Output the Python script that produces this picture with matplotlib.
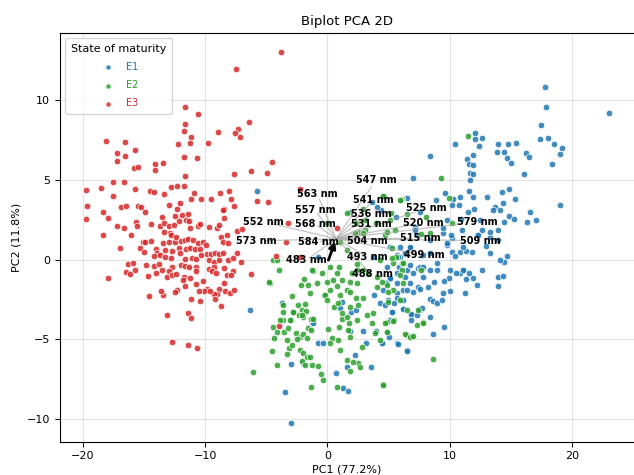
import matplotlib
matplotlib.use("Agg")
import matplotlib.pyplot as plt
import numpy as np

# E3 scores (red cluster)
e3_x = [-7.46, -11.63, -10.56, -6.39, -11.63, -11.71, -8.95, -7.32, -7.59, -7.13, -11.16, -18.11,
        -16.56, -12.2, -11.22, -9.8, -15.77, -17.24, -16.56, -11.71, -10.7, -17.24, -14.1, -13.45,
        -15.85, -15.5, -14.1, -11.63, -7.67, -6.25, -4.95, -17.51, -16.64, -19.75, -18.55, -17.57,
        -15.77, -14.51, -14.16, -13.37, -12.8, -12.33, -11.76, -10.94, -11.14, -10.34, -9.55, -8.77,
        -8.05, -7.87, -7.65, -8.44, -19.64, -16.88, -16.5, -15.47, -15.25, -12.99, -12.06, -5.79,
        -4.84, -2.25, -3.8, -3.2, -4.56, 0.8, -4.2, -2.25, -3.94, -3.4,
        -19.75, -18.38, -17.92, -14.9, -12.28, -13.56, -12.5, -11.87, -11.38, -11.6, -11.35, -12.12,
        -17.24, -16.61, -18.38, -16.04, -15.66, -15.55, -14.41, -13.7, -13.34, -12.96, -13.34, -12.88,
        -12.55, -10.59, -10.43, -11.24, -9.71, -9.06, -8.87, -8.44, -8.52, -7.4, -7.02, -8.73,
        -8.19, -8.57, -8.11, -7.43, -7.1, -6.26, -16.97,
        -15.11, -14.9, -14.46, -15.3, -15.0, -14.02, -13.91, -14.19, -13.7, -13.29, -13.42, -12.93,
        -12.44, -12.82, -12.36, -11.98, -11.68, -11.38, -10.97, -10.59, -10.21, -9.96, -12.14, -11.57,
        -11.22, -10.83, -10.43, -9.88, -9.5, -9.17, -8.87, -8.57, -12.71, -13.26, -12.82, -12.06,
        -11.68, -11.11, -10.78, -10.37, -9.69, -9.28, -8.87, -8.16, -7.7, -16.31, -15.93, -16.48,
        -16.15, -15.74, -14.81, -14.19, -13.75, -13.56, -14.02, -14.7, -12.74, -12.99, -13.1, -12.74,
        -12.39, -12.01, -11.65, -11.32, -10.75, -10.72, -11.73, -11.84, -11.24, -10.75, -10.15, -9.72,
        -9.25, -9.47, -9.14, -8.44, -7.73, -8.22, -7.92, -8.44, -8.38, -7.97, -7.62, -8.87,
        -9.06, -9.31, -9.88, -10.1, -10.51, -9.61, -9.17, -8.71, -11.62, -12.31, -12.47, -13.48,
        -13.64, -14.57, -11.16, -10.45, -11.38, -11.13, -13.15, -17.98, -12.69, -11.43, -10.7]
e3_y = [11.93, 9.55, 9.11, 8.59, 8.45, 8.03, 7.99, 8.18, 7.93, 7.68, 7.68, 7.43,
        7.36, 7.22, 7.26, 7.26, 6.82, 6.68, 6.49, 6.41, 6.32, 6.18, 5.95, 6.01,
        5.74, 5.8, 5.59, 5.2, 5.34, 5.55, 5.41, 4.82, 4.82, 4.32, 4.45, 3.97,
        4.39, 4.3, 4.2, 4.11, 4.51, 4.61, 4.61, 4.18, 3.76, 3.8, 3.76, 4.18,
        4.28, 3.8, 3.36, 3.16, 3.34, 3.26, 3.32, 3.36, 3.3, 3.39, 3.51, 3.68,
        3.61, 4.41, 13.0, 2.3, 6.07, 2.0, 0.24, 0.14, -4.14, 1.11,
        2.51, 2.95, 2.61, 2.99, 3.16, 2.64, 2.72, 2.78, 2.86, 2.47, 2.43, 2.43,
        2.11, 1.97, 1.51, 1.51, 2.32, 2.11, 2.2, 2.11, 2.28, 2.11, 1.72, 1.64,
        2.14, 2.11, 2.2, 1.95, 2.01, 1.97, 2.16, 2.57, 3.09, 1.78, 1.89, 1.39,
        1.51, 1.09, 1.03, 0.43, -0.18, -0.89, 0.74,
        1.07, 1.11, 1.14, 0.74, 0.47, 0.68, 0.39, 0.22, 0.3, 0.59, 1.01, 1.11,
        1.07, 1.55, 1.39, 1.16, 1.22, 1.28, 1.2, 1.01, 1.11, 0.89, 0.74, 0.68,
        0.74, 0.64, 0.66, 0.34, 0.32, 0.43, 0.32, 0.39, 0.53, 0.18, 0.09, 0.39,
        0.03, 0.07, 0.03, 0.26, -0.03, -0.18, -0.03, -0.03, 0.07, -0.3, -0.24, -0.78,
        -0.89, -0.66, -0.34, -0.39, -0.26, -0.66, -0.82, -1.01, -0.49, -0.72, -1.11, -0.97,
        -0.91, -0.32, -0.41, -0.45, -0.47, -0.74, -1.07, -1.28, -1.18, -1.51, -1.34, -0.57,
        -0.45, -0.74, -0.82, -0.55, -0.7, -0.99, -0.99, -1.49, -1.97, -2.11, -1.91, -1.84,
        -2.18, -2.14, -1.86, -1.95, -1.99, -1.99, -2.47, -2.91, -1.64, -1.91, -2.05, -2.22,
        -1.97, -2.26, -2.47, -2.59, -3.32, -3.68, -3.47, -1.14, -5.16, -5.34, -5.53]

# E1 scores (blue cluster)
e1_x = [-5.79, -6.3, -3.69, -1.29, -0.75, -0.4, -3.01, -2.03, -3.47, -3.01, 0.7, 1.29,
        1.7, 1.57, 2.25, 3.53, 1.84, 2.93, 1.93, 2.33, 1.16, 1.02, 3.15, 4.43,
        5.66, 6.53, 3.96, 4.89, 5.11, 3.8, 4.29, 5.25, 6.26, 6.81, 7.56, 6.06,
        5.66, 6.2, 6.75, 7.43, 7.84, 5.66, 5.11, 4.57, 6.47, 7.43, 5.84, 5.66,
        6.34, 5.11, 5.93, 6.75, -1.21, -0.75,
        14.65, 14.43, 13.97, 14.38, 13.97, 12.61, 12.2, 11.92, 11.6, 11.32, 11.05, 10.84,
        10.51, 9.96, 9.52, 10.02, 9.47, 11.24, 8.71, 8.25, 7.56, 7.02, 6.47, 8.38,
        8.65, 8.98, 9.39, 7.51, 7.7, 6.79, 7.29, 8.38, 9.55, 8.65, 6.53, 5.79,
        5.03, 4.43, 6.83, 6.2, 5.25, 5.44, 4.7, 6.2, 5.72, 4.97, 7.29, 10.15,
        9.74, 10.15, 10.84, 11.32, 11.79, 10.42, 8.38, 7.83, 5.92, 6.75, 7.56, 8.38,
        8.92, 7.02, 6.34, 5.65, 5.11, 4.78, 12.96, 13.29, 13.97, 12.2,
        17.81, 17.87, 23.04, 17.43, 17.37, 18.03, 18.55, 19.15, 19.01, 18.36, 16.23, 16.45,
        16.07, 15.44, 14.76, 13.97, 13.86, 14.43, 14.65, 14.98, 12.09, 12.61, 12.09, 12.39,
        10.43, 11.87, 11.41, 11.54, 11.93, 11.65, 11.93, 11.65, 11.6, 8.41, 7.0, 6.52,
        8.89, 9.61, 10.29, 10.15, 10.78, 10.83, 11.98, 14.24, 14.84, 15.3, 14.32, 13.72,
        14.1, 16.56, 19.01, 17.05, 16.34, 14.84, 15.27, 14.43, 12.47, 10.94, 9.74, 12.63,
        13.29, 13.97, 9.42, 10.07, 10.97, 7.15,
        4.37, 3.61, 1.84, 5.6, 7.15, 4.02, 7.56, 11.52, 11.92, 13.01, 13.56, 12.33,
        9.47, 8.38, 9.74, 11.1, 13.29, 14.1, 6.75, 5.79, 4.84, 3.75, 7.84, 8.92,
        10.02, 11.1]
e1_y = [4.26, -3.13, -2.74, -3.89, -5.24, -5.2, -6.53, -6.45, -8.3, -10.24, -7.11, -8.05,
        -8.22, -6.7, -5.97, -6.7, -4.45, -4.45, -3.26, -3.16, -2.64, -3.05, -5.24, -5.24,
        -5.24, -5.66, -4.45, -4.51, -3.78, -2.22, -2.74, -3.26, -3.12, -3.47, -3.16, -2.53,
        -2.12, -1.91, -1.49, -1.7, -1.07, -1.49, -1.24, -1.91, -0.66, -0.55, -0.45, 0.28,
        0.39, 0.8, 0.8, 0.7, -3.99, 0.14,
        0.22, -0.14, -1.07, -1.03, -1.64, -0.66, -1.59, -1.18, -0.86, -1.24, -0.66, -0.86,
        -0.86, -1.18, -1.32, -1.95, -2.07, -2.07, -1.39, -1.7, -1.86, -2.01, -1.91, -2.49,
        -2.57, -2.7, -2.53, -3.11, -3.05, -3.41, -3.47, -3.62, -4.24, -4.66, -5.7, -5.28,
        -4.86, -5.24, -3.78, -3.12, -3.26, -2.7, -2.84, -2.53, -2.43, -2.53, 1.53, 1.32,
        0.91, 0.49, 0.49, 0.55, 0.45, 0.22, 0.38, 0.28, 0.18, -0.34, -0.45, -0.66,
        -0.66, -0.86, -1.07, -0.86, -1.18, -1.49, 0.84, 1.43, 1.22, 1.53,
        10.8, 9.55, 9.14, 8.39, 7.51, 7.61, 7.22, 6.95, 6.59, 5.95, 6.68, 6.43,
        5.32, 7.26, 7.22, 7.22, 6.72, 6.72, 6.34, 6.05, 7.89, 7.57, 7.51, 7.11,
        7.22, 6.51, 6.3, 5.95, 5.93, 5.38, 5.32, 4.95, 4.28, 6.45, 5.07, 3.82,
        3.72, 4.14, 3.78, 3.41, 3.41, 3.93, 3.13, 4.22, 4.39, 3.76, 3.51, 3.3,
        3.09, 2.97, 3.41, 2.47, 2.34, 2.72, 2.55, 2.36, 2.47, 2.51, 2.47, 1.84,
        1.74, 1.84, 1.64, 1.51, 1.84, 2.05,
        3.09, 3.59, 2.95, 2.68, 1.84, 3.3, 2.99, 2.99, 3.93, 3.93, 3.09, 1.53,
        1.95, 1.22, 1.01, 0.8, 0.38, -0.03, 0.8, 0.18, -0.45, 0.18, -0.45, -0.24,
        -0.66, -0.66]

# E2 scores (green cluster)
e2_x = [-4.43, -3.94, -4.7, -1.16, -0.48, -1.89, -2.17, -1.57, -0.89, -1.43, -0.07, 0.2,
        -0.29, -2.88, -3.61, -3.67, -2.38, -1.84, -2.79, -2.11, -1.76, -1.35, -1.16, -1.98,
        -2.3, -2.98, -3.61, -4.48, -4.16, -3.53, -3.2, -2.58, -2.25, -1.98, -1.57, -1.35,
        -1.7, -2.52, -3.34, -3.15, -2.88, -2.25, -1.98, -1.7, -1.43, -2.11, -1.84, -1.29,
        -4.51, -6.12, -0.75, -0.56, -0.4, -1.38, 0.8, 1.84, 2.52, 2.66, 0.07, 0.34,
        0.2, 0.89, 0.97, 1.16, 1.76, 1.57, 1.7, 1.84, 1.57, 2.11, 1.02, 1.16,
        1.84, 0.53, 0.89, 1.02, 0.8, 1.16, 1.57, 1.84, 2.33, 2.93, 2.52, 3.2,
        3.69, 3.61, 2.38, 2.79, 3.88, 4.29, 4.57, 0.75, 0.97, -0.2, -0.01, 2.38,
        2.93, 3.34, 5.38, 4.84, 5.38, 4.97, 5.44, 4.84, 6.47, 6.88, 7.29, 7.84,
        6.47, 4.02, 4.43, 2.38, 1.84, 1.98, 4.02,
        7.83, 7.43, 8.6, 4.51, 4.7, 4.84, 5.38, 6.34, 6.74, 6.96, 5.25, 5.6,
        6.06, 6.06, 5.92, 7.62, 6.15, 4.97, 5.92, 8.38,
        11.52, 9.25, 9.91, 8.05, 6.53, 10.15, 7.62, 6.07,
        5.98, 4.62, 2.88, 5.16, 3.97, -0.07, 2.52, 3.07, 4.7, 4.56, 5.93, 1.57,
        2.33, 3.07, 5.11, 4.84, 5.52, 2.93, 2.25, 1.02, 1.57, 0.2, -1.29, -4.16,
        -4.75, 0.48, 2.38, 4.29, 5.25, 6.2,
        -4.35, -4.1, -3.29, -3.88, -3.07, -2.85, -2.11]
e2_y = [-0.03, -0.66, -1.45, -0.7, -0.86, -1.24, -1.59, -1.59, -1.49, -2.07, -1.39, -1.91,
        -2.22, -2.28, -2.84, -3.26, -2.84, -2.78, -3.26, -3.16, -3.2, -3.72, -3.74, -3.61,
        -3.47, -3.78, -3.78, -4.24, -4.51, -4.51, -4.3, -4.61, -4.82, -4.66, -4.3, -4.41,
        -4.93, -4.95, -5.03, -5.55, -5.32, -5.66, -5.86, -6.07, -6.07, -6.32, -6.59, -6.59,
        -5.72, -7.01, -6.64, -7.16, -7.53, -7.95, -7.95, -6.97, -6.49, -6.7, -4.36, -4.93,
        -5.24, -5.03, -4.24, -3.74, -3.95, -3.61, -4.41, -4.86, -6.28, -6.39, -5.66, -3.36,
        -2.95, -2.95, -2.74, -2.2, -1.66, -1.28, -1.91, -2.01, -2.43, -2.43, -2.84, -3.47,
        -3.36, -3.99, -3.78, -5.45, -4.61, -5.03, -7.8, -0.86, -0.45, -2.22, -2.53, -0.28,
        -0.66, -0.86, -0.24, -1.59, -1.91, -2.64, -3.78, -3.89, -4.72, -4.82, -4.09, -3.89,
        -3.16, -1.7, -1.39, -1.49, -1.39, -0.86, -1.07,
        -3.95, -3.16, -6.22, -7.84, -3.99, -4.51, -3.83, -4.66, -4.86, -4.78, 0.7, 0.18,
        -0.24, -0.66, -0.97, -0.66, -1.49, -2.01, -2.53, 1.64,
        7.72, 5.07, 3.82, 2.68, 2.84, 2.26, 1.57, 3.76,
        3.72, 3.97, 3.14, 2.93, 2.3, 2.3, 1.74, 1.84, 1.53, 3.97, 3.72, 2.89,
        2.3, 2.47, 2.47, 1.74, 1.84, 1.64, 1.64, 1.11, 0.59, -0.45, -0.66, -0.03,
        -1.39, -1.28, -0.66, -0.03, 0.07, -0.24,
        -4.89, -6.59, -5.93, -3.78, -3.78, -3.26, -3.47]

# loading labels and where they sit
wavelengths = ["547 nm", "541 nm", "536 nm", "531 nm", "525 nm", "520 nm", "579 nm",
               "515 nm", "509 nm", "504 nm", "499 nm", "493 nm", "488 nm", "563 nm",
               "557 nm", "568 nm", "552 nm", "573 nm", "584 nm", "483 nm"]
load_x = [3.97, 3.78, 3.58, 3.58, 8.08, 7.81, 12.25, 7.62, 12.5, 3.23, 7.89, 3.29, 3.64,
          -0.83, -1.02, -1.0, -5.25, -5.85, -0.75, -1.76]
load_y = [4.97, 3.72, 2.82, 2.2, 3.2, 2.3, 2.34, 1.32, 1.18, 1.16, 0.28, 0.16, -0.93,
          4.07, 3.09, 2.2, 2.36, 1.16, 1.11, -0.05]
hub = (0.7, 1.3)

groups = ["E1", "E2", "E3"]
colors = ["#1f77b4", "#2ca02c", "#d62728"]

plt.rcParams["font.size"] = 8
fig = plt.figure(figsize=(6.34, 4.75), dpi=100)
ax = fig.add_axes([0.0946, 0.0701, 0.907, 0.8604])

for name, xs, ys, c in zip(groups, [e1_x, e2_x, e3_x], [e1_y, e2_y, e3_y], colors):
    ax.scatter(xs, ys, s=22, color=c, alpha=0.85, edgecolor="white", linewidth=0.6,
               label=name, zorder=2)

# loading vectors
lx = np.array(load_x)
ly = np.array(load_y)
for x, y in zip(lx, ly):
    ex = hub[0] + 0.88 * (x - hub[0])
    ey = hub[1] + 0.88 * (y - hub[1])
    ax.plot([hub[0], ex], [hub[1], ey], color="#aaaaaa", lw=0.9, alpha=0.7, zorder=3)
ax.annotate("", xy=hub, xytext=(0, -0.2),
            arrowprops=dict(arrowstyle="-|>", color="black", lw=2, mutation_scale=10), zorder=4)
for lab, x, y in zip(wavelengths, lx, ly):
    ax.text(x, y, lab, fontsize=7, fontweight="bold", ha="center", va="center", zorder=5)

ax.set_xlim(-21.87, 25.14)
ax.set_ylim(-11.39, 14.16)
ax.set_xticks([-20, -10, 0, 10, 20])
ax.set_yticks([-10, -5, 0, 5, 10])
ax.grid(True, color="#dddddd", lw=0.8, alpha=0.8)
ax.set_axisbelow(True)
ax.set_title("Biplot PCA 2D", fontsize=9.5, x=(347 - 60) / 575)
ax.set_xlabel("PC1 (77.2%)", x=(347 - 60) / 575, labelpad=2)
ax.set_ylabel("PC2 (11.8%)")

leg = ax.legend(title="State of maturity", loc="upper left", fontsize=7, title_fontsize=8,
                markerscale=0.8, handletextpad=0.8, labelspacing=0.85, borderpad=0.6)
for t, c in zip(leg.get_texts(), colors):
    t.set_color(c)

fig.savefig("out.png", dpi=100, facecolor="white")
